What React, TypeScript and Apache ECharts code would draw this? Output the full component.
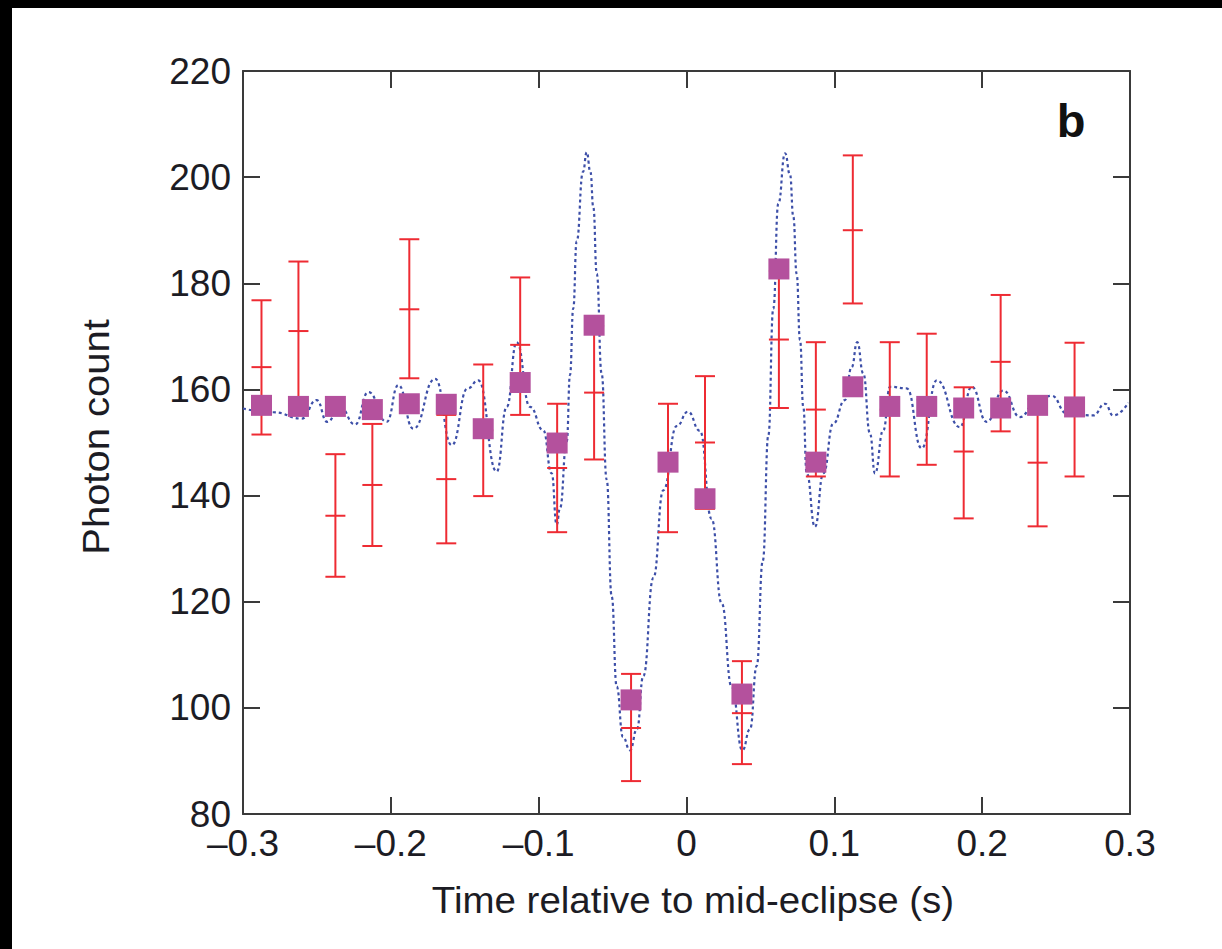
import { useEffect, useRef } from "react";
import * as echarts from "echarts";

// Bin centres (s)
const binTimes = [
  -0.2875, -0.2625, -0.2375, -0.2125, -0.1875, -0.1625, -0.1375, -0.1125, -0.0875, -0.0625,
  -0.0375, -0.0125, 0.0125, 0.0375, 0.0625, 0.0875, 0.1125, 0.1375, 0.1625, 0.1875,
  0.2125, 0.2375, 0.2625,
];
// Observed photon counts (red error bars): centre, lower, upper
const obsCenter = [
  164.2, 171.0, 136.2, 142.0, 175.1, 143.1, 152.3, 168.4, 145.2, 159.4,
  96.2, 145.2, 150.0, 99.0, 169.4, 156.2, 190.0, 156.2, 158.1, 148.3,
  165.2, 146.2, 156.2,
];
const obsLow = [
  151.5, 157.9, 124.7, 130.5, 162.1, 131.0, 139.9, 155.2, 133.1, 146.8,
  86.2, 133.1, 137.5, 89.4, 156.5, 143.6, 176.2, 143.6, 145.8, 135.7,
  152.1, 134.2, 143.6,
];
const obsHigh = [
  176.8, 184.1, 147.8, 153.5, 188.3, 155.2, 164.7, 181.1, 157.3, 172.0,
  106.4, 157.3, 162.5, 108.8, 182.3, 168.9, 204.1, 168.9, 170.5, 160.4,
  177.8, 158.2, 168.8,
];
// Binned model (purple squares)
const modelBinned = [
  157.0, 156.8, 156.8, 156.2, 157.3, 157.2, 152.6, 161.3, 149.9, 172.1,
  101.5, 146.3, 139.4, 102.6, 182.7, 146.3, 160.5, 156.8, 156.8, 156.5,
  156.5, 157.0, 156.7,
];
// Model light curve (dotted blue)
const curveTimes = [
  -0.3, -0.2795, -0.2603, -0.2502, -0.243, -0.2344, -0.2242, -0.2152, -0.2028, -0.1949,
  -0.1848, -0.17, -0.1588, -0.148, -0.1408, -0.1284, -0.1216, -0.1149, -0.1058, -0.0969,
  -0.0912, -0.0878, -0.0856, -0.081, -0.0788, -0.0766, -0.0743, -0.07, -0.0675, -0.065,
  -0.063, -0.0607, -0.0574, -0.054, -0.0506, -0.0472, -0.043, -0.0382, -0.0335,
  -0.0292, -0.0224, -0.0157, -0.0066, 0.001, 0.0091, 0.017, 0.0238, 0.0306, 0.0378,
  0.043, 0.0475, 0.0516, 0.0554, 0.0587, 0.0621, 0.0667, 0.07, 0.0723, 0.0745,
  0.0768, 0.079, 0.0813, 0.0869, 0.0926, 0.0993, 0.1072, 0.1117, 0.1155, 0.1196,
  0.1241, 0.1275, 0.1331, 0.1377, 0.149, 0.1591, 0.1693, 0.185, 0.1929, 0.2031,
  0.2143, 0.2256, 0.236, 0.247, 0.2572, 0.2752, 0.2831, 0.2887, 0.2989,
];
const curveCounts = [
  156.4, 155.7, 154.5, 158.0, 153.9, 156.7, 153.4, 159.5, 153.9, 160.8,
  152.6, 162.0, 149.5, 160.2, 161.7, 144.5, 156.7, 168.9, 156.7, 152.3,
  144.2, 134.5, 137.6, 150.2, 162.7, 175.3, 187.9, 201.0, 204.7, 201.0,
  194.3, 181.8, 163.0, 143.0, 121.0, 104.0, 94.5, 92.0, 96.0,
  106.0, 124.5, 141.0, 153.1, 155.8, 152.2, 135.6, 119.7, 103.9, 92.0,
  96.0, 107.9, 127.7, 151.4, 175.2, 195.0, 204.5, 200.5, 192.5, 181.8,
  169.3, 156.7, 144.2, 134.1, 144.2, 153.6, 158.0, 164.2, 168.9, 163.0,
  151.7, 144.2, 152.3, 160.5, 160.2, 148.9, 161.7, 152.9, 160.5, 153.9,
  159.8, 154.8, 157.5, 158.8, 155.5, 155.1, 157.3, 155.1, 157.5,
];

const FONT = '"Liberation Sans", Arial, Helvetica, sans-serif';
const TEXT = "#1c1c24";
const AXIS = "#3a3a3a";
const RED = "#ee2b33";
const PURPLE = "#b4519d";
const BLUE = "#3d4fa8";

function fmtX(v: number): string {
  const r = Math.round(v * 10) / 10;
  if (r === 0) return "0";
  return (r < 0 ? "\u2013" : "") + Math.abs(r).toFixed(1);
}

export default function App() {
  const ref = useRef<HTMLDivElement>(null);
  useEffect(() => {
    const chart = echarts.init(ref.current!, null, { renderer: "svg" });
    const axisLine = { show: true, onZero: false, lineStyle: { color: AXIS, width: 2 } };
    const axisTick = { show: true, inside: true, length: 17, lineStyle: { color: AXIS, width: 2 } };
    chart.setOption({
      animation: false,
      backgroundColor: "#ffffff",
      grid: { left: 243, right: 92, top: 71, bottom: 135, containLabel: false },
      xAxis: [
        {
          type: "value", min: -0.3, max: 0.3, interval: 0.1, position: "bottom",
          axisLine, axisTick, splitLine: { show: false },
          axisLabel: { formatter: fmtX, fontSize: 37, lineHeight: 26, fontFamily: FONT, color: TEXT, margin: 16 },
        },
        {
          type: "value", min: -0.3, max: 0.3, interval: 0.1, position: "top",
          axisLine, axisTick, splitLine: { show: false }, axisLabel: { show: false },
        },
      ],
      yAxis: [
        {
          type: "value", min: 80, max: 220, interval: 20, position: "left",
          axisLine, axisTick, splitLine: { show: false },
          axisLabel: { fontSize: 37, lineHeight: 26, fontFamily: FONT, color: TEXT, margin: 12 },
        },
        {
          type: "value", min: 80, max: 220, interval: 20, position: "right",
          axisLine, axisTick, splitLine: { show: false }, axisLabel: { show: false },
        },
      ],
      graphic: [
        { type: "rect", shape: { x: 0, y: 0, width: 1222, height: 8 }, style: { fill: "#000" }, silent: true },
        { type: "rect", shape: { x: 0, y: 0, width: 12, height: 949 }, style: { fill: "#000" }, silent: true },
        {
          type: "text", x: 693, y: 900, scaleX: 1.04,
          style: { text: "Time relative to mid-eclipse (s)", font: `37px ${FONT}`, fill: TEXT, textAlign: "center", textVerticalAlign: "middle" },
        },
        {
          type: "text", x: 96, y: 437, rotation: Math.PI / 2, scaleX: 1.08,
          style: { text: "Photon count", font: `37px ${FONT}`, fill: TEXT, textAlign: "center", textVerticalAlign: "middle" },
        },
        {
          type: "text", x: 1071, y: 120,
          style: { text: "b", font: `bold 47px ${FONT}`, fill: "#111", textAlign: "center", textVerticalAlign: "middle" },
        },
      ],
      series: [
        {
          type: "line",
          xAxisIndex: 0, yAxisIndex: 0,
          data: curveTimes.map((t, i) => [t, curveCounts[i]]),
          showSymbol: false,
          smooth: 0.5,
          smoothMonotone: "x",
          lineStyle: { color: BLUE, width: 2.2, type: [3, 3] },
          z: 2,
        },
        {
          type: "custom",
          xAxisIndex: 0, yAxisIndex: 0,
          data: binTimes.map((t, i) => [t, obsLow[i], obsCenter[i], obsHigh[i]]),
          encode: { x: 0, y: [1, 2, 3] },
          renderItem: (_params: any, api: any) => {
            const x = api.value(0);
            const lo = api.coord([x, api.value(1)]);
            const mid = api.coord([x, api.value(2)]);
            const hi = api.coord([x, api.value(3)]);
            const hw = 10;
            const style = { stroke: RED, lineWidth: 2 };
            const h = (p: number[]) => ({ type: "line", shape: { x1: p[0] - hw, y1: p[1], x2: p[0] + hw, y2: p[1] }, style });
            return {
              type: "group",
              children: [
                { type: "line", shape: { x1: lo[0], y1: lo[1], x2: hi[0], y2: hi[1] }, style },
                h(lo), h(mid), h(hi),
              ],
            };
          },
          z: 3,
        },
        {
          type: "scatter",
          xAxisIndex: 0, yAxisIndex: 0,
          data: binTimes.map((t, i) => [t, modelBinned[i]]),
          symbol: "rect",
          symbolSize: 21,
          itemStyle: { color: PURPLE, opacity: 1 },
          z: 4,
        },
      ],
    });
    return () => chart.dispose();
  }, []);
  return (
    <div
      ref={ref}
      style={{ position: "absolute", left: 0, top: 0, width: 1222, height: 949, background: "#fff" }}
    />
  );
}
